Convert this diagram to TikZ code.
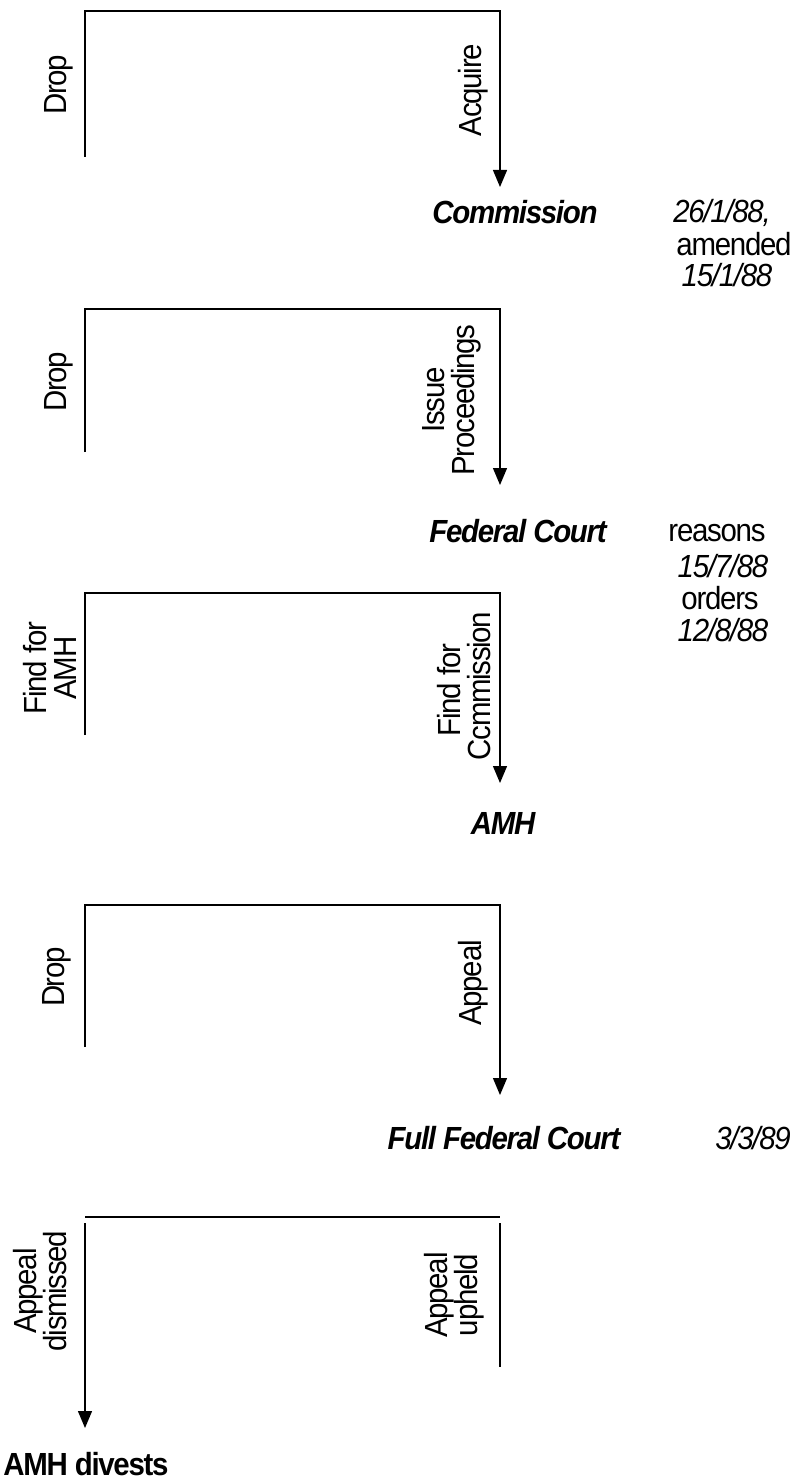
\documentclass[tikz,border=0pt]{standalone}
\usepackage{fontspec}
\setmainfont{Liberation Sans}[LetterSpace=-4,FakeStretch=0.92]
\usetikzlibrary{arrows.meta}
\begin{document}
\begin{tikzpicture}[x=1pt,y=-1pt,
  ln/.style={line width=1.3pt},
  arr/.style={line width=1.3pt,-{Triangle[width=14pt,length=17pt]}},
  vlab/.style={rotate=90,align=center,font=\fontsize{32pt}{30pt}\selectfont,inner sep=0pt},
  stage/.style={font=\fontsize{32pt}{30pt}\selectfont\bfseries\itshape,inner sep=0pt},
  dt/.style={font=\fontsize{32pt}{30pt}\selectfont\itshape,inner sep=0pt},
  wd/.style={font=\fontsize{32pt}{30pt}\selectfont,inner sep=0pt}]
\useasboundingbox (0,0) rectangle (797,1482);
% block 1
\coordinate (a1) at (85,157);
\coordinate (a2) at (85,11);
\coordinate (a3) at (500,11);
\coordinate (a4) at (500,187);
\draw[arr] (a1) -- (a2) -- (a3) -- (a4);
\node[vlab] (drop1) at (59,85) {Drop};
\node[vlab] (acq) at (473,90) {Acquire};
\node[stage] (comm) at (515,212) {Commission};
\node[dt] (d1) at (722,213) {26/1/88,};
\node[wd] (d2) at (734,244) {amended};
\node[dt] (d3) at (727,275) {15/1/88};
% block 2
\coordinate (b1) at (85,452);
\coordinate (b2) at (85,309);
\coordinate (b3) at (500,309);
\coordinate (b4) at (500,485);
\draw[arr] (b1) -- (b2) -- (b3) -- (b4);
\node[vlab] (drop2) at (59,382) {Drop};
\node[vlab] (iss) at (452,400) {Issue\\Proceedings};
\node[stage] (fc) at (518,531) {Federal Court};
\node[wd] (e1) at (717,533) {reasons};
\node[dt] (e2) at (723,566) {15/7/88};
\node[wd] (e3) at (720,598) {orders};
\node[dt] (e4) at (723,630) {12/8/88};
% block 3
\coordinate (c1) at (85,735);
\coordinate (c2) at (85,593);
\coordinate (c3) at (500,593);
\coordinate (c4) at (500,783);
\draw[arr] (c1) -- (c2) -- (c3) -- (c4);
\node[vlab] (fa) at (50,668) {Find for\\AMH};
\node[vlab] (fcm) at (464,686) {Find for\hspace*{8pt}\\Ccmmission};
\node[stage] (amh) at (503,823) {AMH};
% block 4
\coordinate (f1) at (85,1047);
\coordinate (f2) at (85,905);
\coordinate (f3) at (500,905);
\coordinate (f4) at (500,1095);
\draw[arr] (f1) -- (f2) -- (f3) -- (f4);
\node[vlab] (drop4) at (57,977) {Drop};
\node[vlab] (app) at (473,983) {Appeal};
\node[stage] (ffc) at (504,1138) {Full Federal Court};
\node[dt] (g1) at (753,1138) {3/3/89};
% block 5
\coordinate (h1) at (85,1217);
\coordinate (h2) at (500,1217);
\coordinate (h3) at (85,1223);
\coordinate (h4) at (85,1428);
\coordinate (h5) at (500,1223);
\coordinate (h6) at (500,1367);
\draw[ln] (h1) -- (h2);
\draw[arr] (h3) -- (h4);
\draw[ln] (h5) -- (h6);
\node[vlab] (ad) at (40,1291) {Appeal\\dismissed};
\node[vlab] (au) at (454,1295) {Appeal\\upheld};
\node[font=\fontsize{32pt}{30pt}\selectfont\bfseries,inner sep=0pt] (div) at (86,1464) {AMH divests};
\end{tikzpicture}
\end{document}
